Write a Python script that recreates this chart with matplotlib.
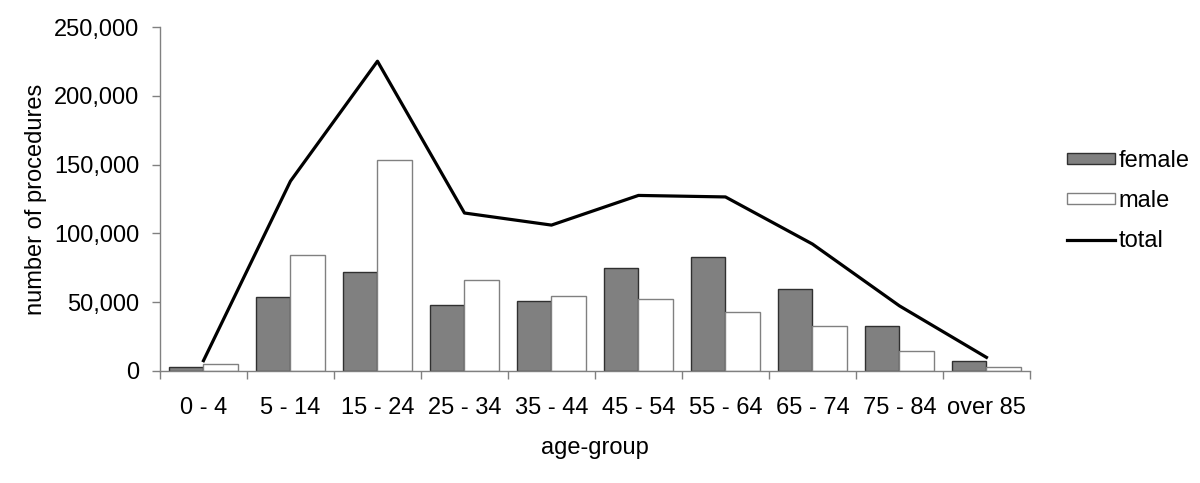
import numpy as np
import matplotlib.pyplot as plt
from matplotlib.ticker import FuncFormatter

plt.rcParams['font.family'] = ['Liberation Sans', 'DejaVu Sans']

# age groups
groups = ['0 - 4', '5 - 14', '15 - 24', '25 - 34', '35 - 44',
          '45 - 54', '55 - 64', '65 - 74', '75 - 84', 'over 85']

# number of procedures
female = [3000, 53500, 71500, 48000, 51000, 75000, 82500, 59300, 32300, 7000]
male = [4600, 84500, 153200, 66000, 54500, 52000, 43000, 32300, 14300, 2400]
total = [7300, 138000, 225300, 114800, 106000, 127600, 126500, 92200, 47200, 9700]

fs = 17

fig = plt.figure(figsize=(12, 4.83), dpi=100)
ax = fig.add_axes([0.1333, 0.2325, 0.725, 0.711])

x = np.arange(len(groups))
w = 0.395

b1 = ax.bar(x - w/2, female, width=w, color='#808080', edgecolor='#303030',
            linewidth=1.0, label='female', zorder=2)
b2 = ax.bar(x + w/2, male, width=w, color='white', edgecolor='#808080',
            linewidth=1.0, label='male', zorder=2)
l1, = ax.plot(x, total, color='black', linewidth=2.3, label='total', zorder=3)

ax.set_xlim(-0.5, len(groups) - 0.5)
ax.set_ylim(0, 250000)
ax.set_yticks(np.arange(0, 250001, 50000))
ax.yaxis.set_major_formatter(FuncFormatter(lambda v, p: f'{int(v):,}'))

# ticks at category boundaries, labels at centres
ax.set_xticks(np.arange(-0.5, len(groups), 1.0))
ax.set_xticklabels([])
ax.set_xticks(x, minor=True)
ax.set_xticklabels(groups, minor=True)
ax.tick_params(axis='x', which='major', length=6, width=1, color='#808080',
               direction='out')
ax.tick_params(axis='x', which='minor', length=0, pad=19, labelsize=fs)
ax.tick_params(axis='y', length=6, width=1, color='#808080', direction='out',
               labelsize=fs, pad=9)

for s in ['top', 'right']:
    ax.spines[s].set_visible(False)
for s in ['left', 'bottom']:
    ax.spines[s].set_color('#808080')
    ax.spines[s].set_linewidth(1)

ax.set_xlabel('age-group', fontsize=fs, labelpad=13)
ax.set_ylabel('number of procedures', fontsize=fs, labelpad=5)

fig.legend([b1, b2, l1], ['female', 'male', 'total'], loc='center left',
           bbox_to_anchor=(0.881, 0.584), frameon=False,
           fontsize=fs, handlelength=2.03, handleheight=0.33,
           handletextpad=0.17, labelspacing=0.76, borderaxespad=0)

fig.savefig('out.png', dpi=100)
